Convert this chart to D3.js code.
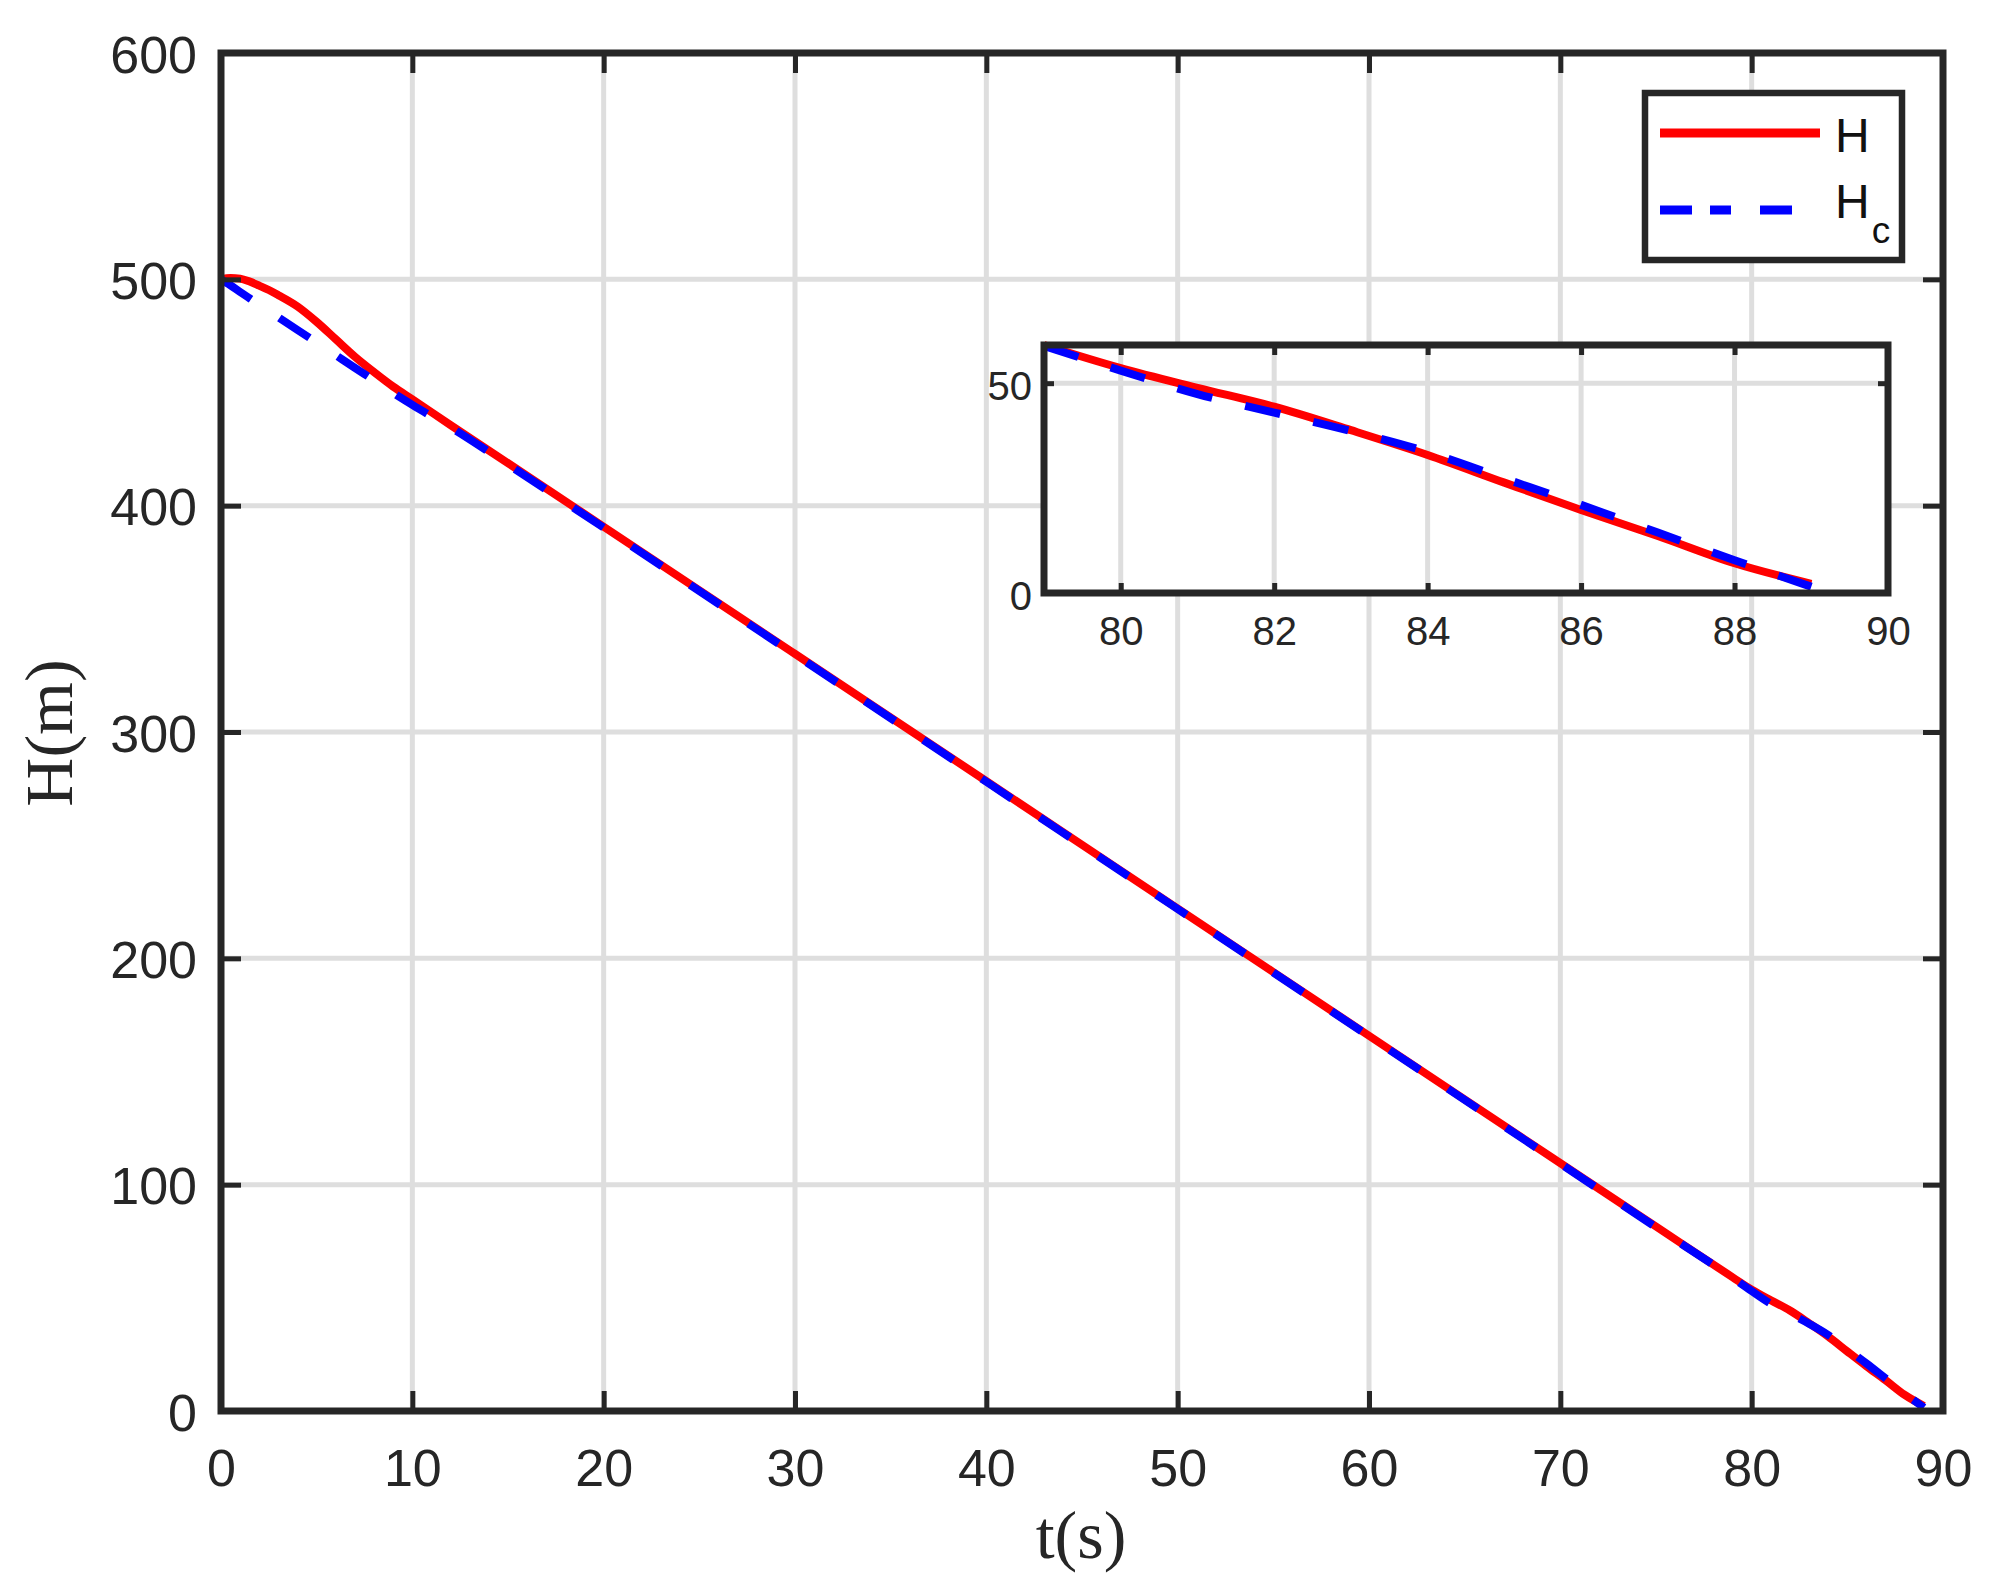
<!DOCTYPE html>
<html><head><meta charset="utf-8">
<script src="https://cdn.jsdelivr.net/npm/d3@7"></script>
<style>body{margin:0;background:#fff}</style>
</head><body>
<svg id="c" width="2001" height="1590"></svg>
<script>
// ---- data ----
const tValues  = [0,0.5,1,1.5,2,2.5,3,4,5,6,7,8,9,10,12,15,20,30,40,50,60,70,75,79,80,81,82,83,84,85,86,87,88,89];
const hValues  = [500,500.6,500.3,499,497.2,495.3,493,488,481.2,473.5,465.8,459,452.6,447,435.6,418.8,390.7,334.5,278.3,222,165.8,109.5,81.5,59.1,53.6,48.9,44.4,38.8,32.9,26.3,19.8,13.6,7.1,2.2];
const hcValues = [500,497.3,494.4,491.6,488.8,486,483.2,477.6,472.1,466.5,460.9,455.4,449.8,444.5,434.6,418.2,390.3,334.2,278,221.8,165.6,109.3,81.2,58.9,53.0,47.4,43.0,38.6,33.6,27.3,21.0,14.4,7.8,1.5];
const xTicks = [0,10,20,30,40,50,60,70,80,90];
const yTicks = [0,100,200,300,400,500,600];
const insetXTicks = [80,82,84,86,88,90];
const insetYTicks = [0,50];
const xDomain = [0,90], yDomain = [0,600];
const insetXDomain = [79,90], insetYDomain = [0,59.1];
const xLabel = "t(s)", yLabel = "H(m)";

const INK = "#262626", GRID = "#dedede";
const svg = d3.select("#c");
svg.append("rect").attr("width",2001).attr("height",1590).attr("fill","#fff");

const x = d3.scaleLinear().domain(xDomain).range([221,1943]);
const y = d3.scaleLinear().domain(yDomain).range([1411,53]);

const hSeries = tValues.map((t,i)=>({t, v:hValues[i]}));
const hcSeries = tValues.map((t,i)=>({t, v:hcValues[i]}));

// grid
const g = svg.append("g");
g.selectAll(".gx").data(xTicks.filter(d=>d>xDomain[0]&&d<xDomain[1])).join("line")
  .attr("x1",d=>x(d)).attr("x2",d=>x(d)).attr("y1",y(yDomain[0])).attr("y2",y(yDomain[1]))
  .attr("stroke",GRID).attr("stroke-width",5);
g.selectAll(".gy").data(yTicks.filter(d=>d>yDomain[0]&&d<yDomain[1])).join("line")
  .attr("y1",d=>y(d)).attr("y2",d=>y(d)).attr("x1",x(xDomain[0])).attr("x2",x(xDomain[1]))
  .attr("stroke",GRID).attr("stroke-width",5);

function drawLines(parent, xs, ys, filt){
  const line = d3.line().x(d=>xs(d.t)).y(d=>ys(d.v)).curve(d3.curveMonotoneX);
  parent.append("path").datum(hSeries.filter(filt)).attr("d",line)
    .attr("fill","none").attr("stroke","#ff0000").attr("stroke-width",8).attr("stroke-linejoin","round");
  parent.append("path").datum(hcSeries.filter(filt)).attr("d",line)
    .attr("fill","none").attr("stroke","#0000ff").attr("stroke-width",8).attr("stroke-dasharray","36 34");
}
drawLines(svg, x, y, d=>true);

function styleAxis(sel, fs){
  sel.select(".domain").remove();
  sel.selectAll(".tick line").attr("stroke",INK).attr("stroke-width",5);
  sel.selectAll(".tick text").attr("fill",INK).style("font-family","'Liberation Sans', Arial, sans-serif").style("font-size",fs+"px");
}
// main axes
const ax = svg.append("g").attr("transform",`translate(0,${y(yDomain[0])})`)
  .call(d3.axisBottom(x).tickValues(xTicks).tickSize(-20).tickPadding(38));
styleAxis(ax,52);
const axT = svg.append("g").attr("transform",`translate(0,${y(yDomain[1])})`)
  .call(d3.axisTop(x).tickValues(xTicks).tickSize(-20).tickFormat(""));
styleAxis(axT,52);
const ay = svg.append("g").attr("transform",`translate(${x(xDomain[0])},0)`)
  .call(d3.axisLeft(y).tickValues(yTicks).tickSize(-20).tickPadding(24));
styleAxis(ay,52);
ay.selectAll(".tick text").attr("dy","0.37em");
const ayR = svg.append("g").attr("transform",`translate(${x(xDomain[1])},0)`)
  .call(d3.axisRight(y).tickValues(yTicks).tickSize(-20).tickFormat(""));
styleAxis(ayR,52);

svg.append("rect").attr("x",x(xDomain[0])).attr("y",y(yDomain[1]))
  .attr("width",x(xDomain[1])-x(xDomain[0])).attr("height",y(yDomain[0])-y(yDomain[1]))
  .attr("fill","none").attr("stroke",INK).attr("stroke-width",7);

// axis labels
svg.append("text").attr("x",1081).attr("y",1558).attr("text-anchor","middle")
  .style("font-family","'Liberation Serif', 'Times New Roman', serif").style("font-size","68px").attr("fill",INK).text(xLabel);
svg.append("text").attr("transform","translate(72,733) rotate(-90)").attr("text-anchor","middle")
  .style("font-family","'Liberation Serif', 'Times New Roman', serif").style("font-size","68px").attr("fill",INK).text(yLabel);

// legend
const lg = svg.append("g");
lg.append("rect").attr("x",1645).attr("y",93).attr("width",257).attr("height",167)
  .attr("fill","#fff").attr("stroke",INK).attr("stroke-width",6.5);
lg.append("line").attr("x1",1660).attr("x2",1820).attr("y1",133).attr("y2",133)
  .attr("stroke","#ff0000").attr("stroke-width",9);
lg.append("line").attr("x1",1660).attr("x2",1792).attr("y1",210).attr("y2",210)
  .attr("stroke","#0000ff").attr("stroke-width",9).attr("stroke-dasharray","32 18 21 29 32 60");
lg.append("text").attr("x",1835).attr("y",152).attr("fill","#111")
  .style("font-family","'Liberation Sans', Arial, sans-serif").style("font-size","48px").text("H");
const t2 = lg.append("text").attr("x",1835).attr("y",218).attr("fill","#111")
  .style("font-family","'Liberation Sans', Arial, sans-serif").style("font-size","48px");
t2.append("tspan").text("H");
t2.append("tspan").attr("dx",2).attr("dy",25).style("font-size","37px").text("c");

// inset
const xi = d3.scaleLinear().domain(insetXDomain).range([1044,1888]);
const yi = d3.scaleLinear().domain(insetYDomain).range([593,345]);
const ig = svg.append("g");
ig.append("rect").attr("x",xi(insetXDomain[0])).attr("y",yi(insetYDomain[1]))
  .attr("width",xi(insetXDomain[1])-xi(insetXDomain[0])).attr("height",yi(insetYDomain[0])-yi(insetYDomain[1]))
  .attr("fill","#fff");
ig.selectAll(".igx").data(insetXTicks.filter(d=>d>insetXDomain[0]&&d<insetXDomain[1])).join("line")
  .attr("x1",d=>xi(d)).attr("x2",d=>xi(d)).attr("y1",yi(insetYDomain[0])).attr("y2",yi(insetYDomain[1]))
  .attr("stroke",GRID).attr("stroke-width",5);
ig.selectAll(".igy").data(insetYTicks.filter(d=>d>insetYDomain[0]&&d<insetYDomain[1])).join("line")
  .attr("y1",d=>yi(d)).attr("y2",d=>yi(d)).attr("x1",xi(insetXDomain[0])).attr("x2",xi(insetXDomain[1]))
  .attr("stroke",GRID).attr("stroke-width",5);
drawLines(ig, xi, yi, d=>d.t>=insetXDomain[0]);
const iax = ig.append("g").attr("transform",`translate(0,${yi(insetYDomain[0])})`)
  .call(d3.axisBottom(xi).tickValues(insetXTicks).tickSize(-10).tickPadding(24));
styleAxis(iax,40);
const iaxT = ig.append("g").attr("transform",`translate(0,${yi(insetYDomain[1])})`)
  .call(d3.axisTop(xi).tickValues(insetXTicks).tickSize(-10).tickFormat(""));
styleAxis(iaxT,40);
const iay = ig.append("g").attr("transform",`translate(${xi(insetXDomain[0])},0)`)
  .call(d3.axisLeft(yi).tickValues(insetYTicks).tickSize(-10).tickPadding(12));
styleAxis(iay,40);
iay.selectAll(".tick text").attr("dy","0.4em");
const iayR = ig.append("g").attr("transform",`translate(${xi(insetXDomain[1])},0)`)
  .call(d3.axisRight(yi).tickValues(insetYTicks).tickSize(-10).tickFormat(""));
styleAxis(iayR,40);
ig.append("rect").attr("x",xi(insetXDomain[0])).attr("y",yi(insetYDomain[1]))
  .attr("width",xi(insetXDomain[1])-xi(insetXDomain[0])).attr("height",yi(insetYDomain[0])-yi(insetYDomain[1]))
  .attr("fill","none").attr("stroke",INK).attr("stroke-width",7);
</script>
</body></html>
